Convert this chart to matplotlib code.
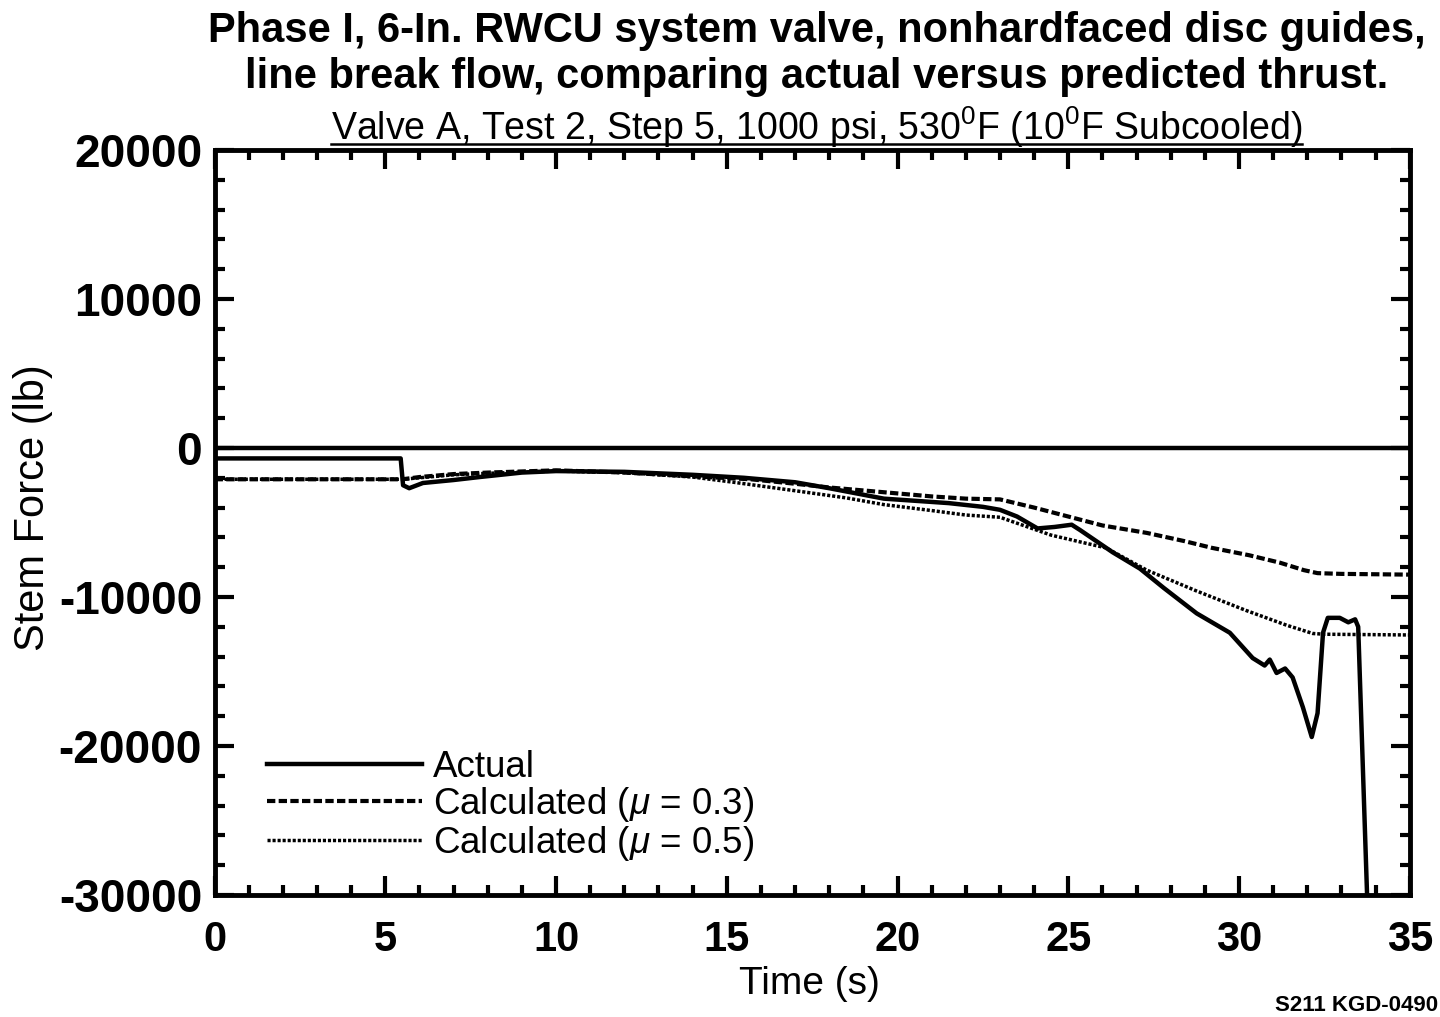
import matplotlib
matplotlib.use("Agg")
import matplotlib.pyplot as plt
from matplotlib.lines import Line2D
from matplotlib.ticker import MultipleLocator

# -----------------------------
# Datos
# -----------------------------
t_actual = [0, 5.45, 5.52, 5.7, 6.1, 7.0, 7.76, 9.0, 10, 12, 14, 15.5, 17, 18,
            19.6, 21.5, 22.5, 23, 23.5, 24.1, 24.6, 25.1, 25.34, 26.3, 27.1,
            27.8, 28.76, 29.73, 30.4, 30.75, 30.9, 31.1, 31.35, 31.57, 31.87,
            32.13, 32.3, 32.46, 32.6, 32.95, 33.2, 33.4, 33.49, 33.75]
f_actual = [-700, -700, -2500, -2700, -2350, -2150, -1950, -1650, -1550, -1600,
            -1800, -2000, -2300, -2700, -3400, -3700, -3950, -4150, -4600, -5400,
            -5300, -5150, -5500, -7000, -8100, -9400, -11100, -12400, -14100,
            -14600, -14200, -15100, -14800, -15400, -17400, -19400, -17800,
            -12400, -11400, -11400, -11700, -11500, -12000, -30000]

t_mu03 = [0, 5.5, 6.0, 7.0, 8.0, 10, 12, 14, 15.7, 17, 18, 19.5, 21, 22, 23, 24,
          25, 26, 27.3, 28.4, 29.2, 30.3, 31.2, 31.9, 32.3, 33, 35]
f_mu03 = [-2100, -2100, -1950, -1750, -1650, -1500, -1650, -1900, -2100, -2400,
          -2650, -2950, -3250, -3400, -3450, -4000, -4600, -5200, -5700, -6250,
          -6700, -7200, -7700, -8200, -8400, -8450, -8500]

t_mu05 = [0, 5.5, 6, 7, 8, 10, 12, 14, 15.2, 17.1, 18.5, 19.6, 21, 22, 23, 24.5,
          25.34, 26.1, 27.3, 28.76, 30.2, 31.4, 32.16, 32.5, 35]
f_mu05 = [-2100, -2100, -2000, -1800, -1700, -1550, -1650, -1950, -2300, -2900,
          -3350, -3800, -4200, -4500, -4650, -5850, -6300, -6700, -8200, -9600,
          -10900, -11900, -12450, -12500, -12550]

x_ticks = [0, 5, 10, 15, 20, 25, 30, 35]
y_ticks = [-30000, -20000, -10000, 0, 10000, 20000]

titulo1 = "Phase I, 6-In. RWCU system valve, nonhardfaced disc guides,"
titulo2 = "line break flow, comparing actual versus predicted thrust."
subtitulo = r"Valve A, Test 2, Step 5, 1000 psi, 530$^{\mathregular{0}}$F (10$^{\mathregular{0}}$F Subcooled)"
etiquetas = ["Actual", r"Calculated ($\mu$ = 0.3)", r"Calculated ($\mu$ = 0.5)"]

# -----------------------------
# Estilo
# -----------------------------
plt.rcParams['font.family'] = ['Liberation Sans', 'DejaVu Sans']
plt.rcParams['mathtext.fontset'] = 'custom'
plt.rcParams['mathtext.rm'] = 'Liberation Sans'
plt.rcParams['mathtext.it'] = 'Liberation Sans:italic'
plt.rcParams['axes.unicode_minus'] = False

fig = plt.figure(figsize=(14.4, 10.17), dpi=100)
ax = fig.add_axes([0.149, 0.12, 0.83, 0.7325])

# -----------------------------
# Curvas
# -----------------------------
ax.axhline(0, color='black', lw=3.2)
ax.plot(t_actual, f_actual, color='black', lw=3.2, label=etiquetas[0])
ax.plot(t_mu03, f_mu03, color='black', lw=3.0, ls=(0, (2.0, 0.8)),
        dash_capstyle='butt', label=etiquetas[1])
ax.plot(t_mu05, f_mu05, color='black', lw=2.5, ls=(0, (0.9, 0.55)),
        label=etiquetas[2])

ax.set_xlim(0, 35)
ax.set_ylim(-30000, 20000)
ax.set_xticks(x_ticks)
ax.set_yticks(y_ticks)
ax.xaxis.set_minor_locator(MultipleLocator(1))
ax.yaxis.set_minor_locator(MultipleLocator(2000))
ax.tick_params(which='both', direction='in', top=True, right=True, width=3)
ax.tick_params(which='major', length=14)
ax.tick_params(which='minor', length=7)
ax.tick_params(axis='x', pad=18, labelsize=30)
ax.tick_params(axis='y', pad=9, labelsize=33)
for lbl in ax.get_xticklabels() + ax.get_yticklabels():
    lbl.set_fontweight('bold')
for sp in ax.spines.values():
    sp.set_linewidth(3.5)

ax.set_xlabel("Time (s)", fontsize=28)
ax.xaxis.set_label_coords(0.498, -0.096)
ax.set_ylabel("Stem Force (lb)", fontsize=30)
ax.yaxis.set_label_coords(-0.135, 0.52)

ax.legend(loc='lower left', bbox_to_anchor=(0.044, 0.043), frameon=False,
          fontsize=26.5, handlelength=4.2, handletextpad=0.3, labelspacing=0,
          borderpad=0, borderaxespad=0)

# -----------------------------
# Titulos
# -----------------------------
fig.text(0.567, 0.9587, titulo1, ha='center', va='baseline', fontsize=30,
         weight='bold')
fig.text(0.567, 0.9135, titulo2, ha='center', va='baseline', fontsize=30,
         weight='bold')
sub = fig.text(0.567, 0.8623, subtitulo, ha='center', va='baseline',
               fontsize=27)
fig.text(0.9986, 0.006, "S211 KGD-0490", ha='right', va='baseline',
         fontsize=16, weight='bold')

# subrayado del subtitulo
fig.canvas.draw()
bb = sub.get_window_extent()
W, H = fig.bbox.width, fig.bbox.height
y_sub = 1 - 144 / 1017
fig.add_artist(Line2D([bb.x0 / W, bb.x1 / W], [y_sub, y_sub],
                      transform=fig.transFigure, color='black', lw=1.8))

fig.savefig("out.png", dpi=100)
